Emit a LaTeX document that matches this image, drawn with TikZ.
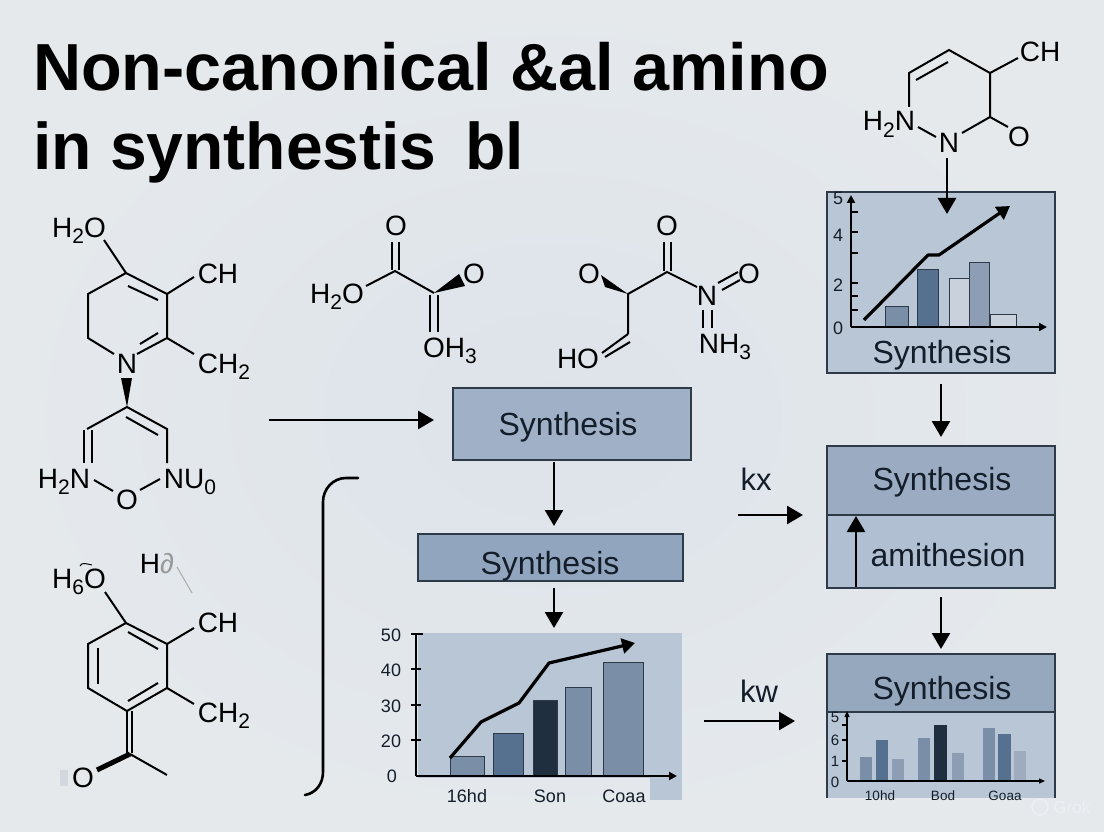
\documentclass[tikz,border=0pt]{standalone}
\usepackage{fontspec}
\setmainfont{Liberation Sans}
\usetikzlibrary{arrows.meta}
\definecolor{pagein}{HTML}{DDE3EA}
\definecolor{pageout}{HTML}{E5E9EC}
\definecolor{inkdark}{HTML}{141E2A}
\definecolor{boxedge}{HTML}{2E3A48}
\definecolor{boxone}{HTML}{A0B1C7}
\definecolor{boxtwo}{HTML}{92A5BE}
\definecolor{boxupper}{HTML}{9BACC2}
\definecolor{boxlower}{HTML}{B0BFD1}
\definecolor{boxtop}{HTML}{96A8BE}
\definecolor{panel}{HTML}{B8C6D5}
\definecolor{barnavy}{HTML}{1F2F3F}
\definecolor{bardeep}{HTML}{56708F}
\definecolor{barmid}{HTML}{7A8EA8}
\definecolor{barsoft}{HTML}{8D9DB3}
\definecolor{barpale}{HTML}{C8D1DC}
\newcommand{\chemsub}[1]{\raisebox{-.24em}{\fontsize{21}{21}\selectfont #1}}
\tikzset{
	atom/.style={anchor=base,inner sep=0pt,text=black,font=\fontsize{28}{30}\selectfont},
	bond/.style={line width=2pt},
	flow/.style={line width=2.7pt,-{Triangle[length=16pt,width=18pt]}},
	trend/.style={line width=3.2pt,line join=round,-{Triangle[length=13pt,width=15pt]}},
	axis/.style={line width=2pt,-{Triangle[length=8pt,width=8pt]}},
	tick/.style={line width=1.4pt},
	bar/.style={draw=boxedge,line width=0.8pt},
	stepbox/.style={draw=boxedge,line width=1.3pt,inner sep=0pt,outer sep=0pt},
	word/.style={anchor=base,inner sep=0pt,text=inkdark,font=\fontsize{32}{34}\selectfont},
	rate/.style={anchor=base,inner sep=0pt,text=inkdark,font=\fontsize{31}{33}\selectfont},
	numlabel/.style={inner sep=0pt,text=inkdark,font=\fontsize{#1}{#1}\selectfont},
	headline/.style={anchor=base west,inner sep=0pt,text=black,font=\fontsize{#1}{70}\selectfont\bfseries}
}
\begin{document}
\begin{tikzpicture}[x=1pt,y=-1pt]
	\useasboundingbox (0,0) rectangle (1104,832);
	\shade[inner color=pagein,outer color=pageout] (0,0) rectangle (1104,832);
	% heading
	\node[headline=66.6] (head1) at (33,91) {Non-canonical \&al amino};
	\node[headline=66] (head2) at (33,170) {in synthestis\hspace{29pt}bl};

	% ring, top right
	\coordinate (R1) at (949,50);
	\coordinate (R2) at (990,73);
	\coordinate (R3) at (990,117);
	\coordinate (R4) at (909,73);
	\coordinate (R5) at (909,107);
	\coordinate (R6) at (1018,58);
	\coordinate (R7) at (962,133);
	\coordinate (R8) at (1008,127);
	\coordinate (R9) at (918,127);
	\coordinate (R10) at (936,137);
	\coordinate (R11) at (916,80);
	\coordinate (R12) at (948,62);
	\draw[bond] (R5) to (R4) to (R1) to (R2) to (R3) to (R7);
	\draw[bond] (R11) to (R12);
	\draw[bond] (R2) to (R6);
	\draw[bond] (R3) to (R8);
	\draw[bond] (R9) to (R10);
	\node[atom] (chTop) at (1040,62) {CH};
	\node[atom] (hnTop) at (889,131) {H\chemsub{2}N};
	\node[atom] (nTop) at (949,153) {N};
	\node[atom] (oTop) at (1019,147) {O};

	% first ring pair, left
	\coordinate (A1) at (126,273);
	\coordinate (A2) at (167,294);
	\coordinate (A3) at (167,338);
	\coordinate (A4) at (114,354);
	\coordinate (A5) at (88,338);
	\coordinate (A6) at (88,294);
	\coordinate (A7) at (104,240);
	\coordinate (A8) at (194,277);
	\coordinate (A9) at (194,354);
	\coordinate (A10) at (137,354);
	\draw[bond] (A4) to (A5) to (A6) to (A1) to (A2) to (A3) to (A10);
	\draw[bond] (A7) to (A1);
	\draw[bond] (A2) to (A8);
	\draw[bond] (A3) to (A9);
	\draw[bond] (128,286) to (158,300);
	\draw[bond] (158,333) to (140,344);
	\coordinate (A11) at (121,378);
	\coordinate (A12) at (132,378);
	\coordinate (B1) at (127,407);
	\coordinate (B2) at (87,429);
	\coordinate (B3) at (167,429);
	\coordinate (B4) at (167,463);
	\fill (A11) -- (A12) -- (B1) -- cycle;
	\draw[bond] (B4) to (B3) to (B1) to (B2);
	\draw[bond] (126,417) to (158,435);
	\draw[bond] (84,430) to (84,463);
	\draw[bond] (92,430) to (92,463);
	\coordinate (B5) at (94,480);
	\coordinate (B6) at (113,491);
	\coordinate (B7) at (140,490);
	\coordinate (B8) at (160,479);
	\draw[bond] (B5) to (B6);
	\draw[bond] (B7) to (B8);
	\node[atom] (hoA) at (79,237) {H\chemsub{2}O};
	\node[atom] (chA) at (218,283) {CH};
	\node[atom] (chhA) at (224,373) {CH\chemsub{2}};
	\node[atom] (nA) at (127,373) {N};
	\node[atom] (hnB) at (64,488) {H\chemsub{2}N};
	\node[atom] (oB) at (127,509) {O};
	\node[atom] (nuB) at (190,488) {NU\chemsub{0}};

	% second ring, left
	\coordinate (C1) at (126,623);
	\coordinate (C2) at (167,644);
	\coordinate (C3) at (167,688);
	\coordinate (C4) at (127,711);
	\coordinate (C5) at (88,688);
	\coordinate (C6) at (88,644);
	\coordinate (C7) at (105,592);
	\coordinate (C8) at (194,628);
	\coordinate (C9) at (194,704);
	\coordinate (C10) at (130,754);
	\coordinate (C11) at (167,775);
	\coordinate (C12) at (97,770);
	\draw[bond] (C1) to (C2) to (C3) to (C4) to (C5) to (C6) to (C1);
	\draw[bond] (128,632) to (158,649);
	\draw[bond] (158,683) to (128,701);
	\draw[bond] (98,648) to (98,684);
	\draw[bond] (C7) to (C1);
	\draw[bond] (C2) to (C8);
	\draw[bond] (C3) to (C9);
	\draw[bond] (127.3,711) to (127.3,753);
	\draw[bond] (131.7,711) to (131.7,753);
	\draw[bond] (C10) to (C11);
	\draw[line width=5pt] (C10) to (C12);
	\draw[black!30,line width=1.2pt] (177,567) to (192,593);
	\draw[line width=1pt] (80,566) to[out=70,in=170] (92,565);
	\fill[pagein!95!black] (60,770) rectangle (68,786);
	\node[atom] (hoC) at (79,588) {H\chemsub{6}O};
	\node[atom] (hdC) at (157,573) {H\textcolor{black!40}{∂}};
	\node[atom] (chC) at (218,632) {CH};
	\node[atom] (chhC) at (224,722) {CH\chemsub{2}};
	\node[atom] (oC) at (83,787) {O};

	% small acid, middle
	\coordinate (D1) at (395,271);
	\coordinate (D2) at (434,293);
	\coordinate (D3) at (366,286);
	\coordinate (D4) at (459,274);
	\coordinate (D5) at (465,286);
	\draw[bond] (D3) to (D1) to (D2);
	\draw[bond] (392,242) to (392,270);
	\draw[bond] (399,242) to (399,270);
	\fill (D2) -- (D4) -- (D5) -- cycle;
	\draw[bond] (430,295) to (430,332);
	\draw[bond] (438,295) to (438,332);
	\node[atom] (oD) at (396,236) {O};
	\node[atom] (hoD) at (337,303) {H\chemsub{2}O};
	\node[atom] (oeD) at (474,283) {O};
	\node[atom] (ohD) at (450,357) {OH\chemsub{3}};

	% nitro chain, middle
	\coordinate (E1) at (667,272);
	\coordinate (E2) at (628,294);
	\coordinate (E3) at (628,334);
	\coordinate (E4) at (697,287);
	\coordinate (E5) at (601,275);
	\coordinate (E6) at (605,287);
	\draw[bond] (E3) to (E2) to (E1) to (E4);
	\fill (E2) -- (E5) -- (E6) -- cycle;
	\draw[bond] (664,242) to (664,271);
	\draw[bond] (671,242) to (671,271);
	\draw[bond] (E3) to (602,353);
	\draw[bond] (630,342) to (605,357);
	\draw[bond] (718,283) to (738,272);
	\draw[bond] (722,290) to (740,280);
	\draw[bond] (703,310) to (703,328);
	\draw[bond] (712,310) to (712,328);
	\node[atom] (oE) at (667,236) {O};
	\node[atom] (olE) at (589,283) {O};
	\node[atom] (orE) at (749,283) {O};
	\node[atom] (nE) at (707,305) {N};
	\node[atom] (nhE) at (725,353) {NH\chemsub{3}};
	\node[atom] (hoE) at (578,368) {HO};

	% middle column
	\node[stepbox,fill=boxone,minimum width=238pt,minimum height=72pt] (box1) at (572,424) {};
	\node[word] (syn1) at (568,435) {Synthesis};
	\node[stepbox,fill=boxtwo,minimum width=265pt,minimum height=47pt] (box2) at (550.5,557.5) {};
	\node[word] (syn2) at (550,574) {Synthesis};
	\coordinate (M1) at (269,420);
	\coordinate (M2) at (434,420);
	\draw[flow] (M1) to (M2);
	\coordinate (M3) at (554,462);
	\coordinate (M4) at (554,526);
	\coordinate (M5) at (554,588);
	\coordinate (M6) at (554,628);
	\draw[flow] (M3) to (M4);
	\draw[flow] (M5) to (M6);
	\draw[line width=2.6pt,line cap=round] (358,478) to (346,478) to[out=180,in=90] (323,502) to (323,772) to[out=-90,in=10] (305,795);

	% chart, middle
	\fill[panel] (418,633) rectangle (682,778);
	\fill[panel] (650,778) rectangle (682,800);
	\draw[bar,fill=barmid] (450,756) rectangle (484,776);
	\draw[bar,fill=bardeep] (493,733) rectangle (523,776);
	\draw[bar,fill=barnavy] (533,700) rectangle (557,776);
	\draw[bar,fill=barmid] (565,687) rectangle (591,776);
	\draw[bar,fill=barmid] (603,662) rectangle (643,776);
	\draw[line width=2pt] (416,776) to (416,634);
	\draw[axis] (416,776) to (677,776);
	\draw[tick] (411,634) to (423,634);
	\draw[tick] (411,669) to (421,669);
	\draw[tick] (411,705) to (421,705);
	\draw[tick] (411,740) to (421,740);
	\draw[trend] (450,758) to (481,722) to (519,703) to (549,663) to (635,643);
	\node[numlabel=18] (m50) at (391,635) {50};
	\node[numlabel=18] (m40) at (391,670) {40};
	\node[numlabel=18] (m30) at (391,706) {30};
	\node[numlabel=18] (m20) at (391,741) {20};
	\node[numlabel=18] (m0) at (392,776) {0};
	\node[numlabel=18,anchor=base] (mx1) at (467,802) {16hd};
	\node[numlabel=18,anchor=base] (mx2) at (550,802) {Son};
	\node[numlabel=18,anchor=base] (mx3) at (624,802) {Coaa};

	% right column, chart on top
	\node[stepbox,fill=panel,minimum width=228pt,minimum height=181pt] (panelTop) at (941,282.5) {};
	\draw[bar,fill=barmid] (885,306) rectangle (908,327);
	\draw[bar,fill=bardeep] (917,269) rectangle (938,327);
	\draw[bar,fill=barpale] (949,278) rectangle (969,327);
	\draw[bar,fill=barsoft] (969,262) rectangle (989,327);
	\draw[bar,fill=barpale] (990,314) rectangle (1016,327);
	\draw[axis] (851,327) to (851,195);
	\draw[axis] (851,327) to (1047,327);
	\draw[tick] (851,212) to (858,212);
	\draw[tick] (851,232) to (858,232);
	\draw[tick] (851,253) to (858,253);
	\draw[tick] (851,283) to (858,283);
	\draw[tick] (851,296) to (858,296);
	\draw[tick] (851,310) to (858,310);
	\draw[trend] (864,320) to (928,255) to (939,255) to (1010,206);
	\node[numlabel=18] (t5) at (838,198) {5};
	\node[numlabel=18] (t4) at (838,235) {4};
	\node[numlabel=18] (t2) at (838,285) {2};
	\node[numlabel=18] (t0) at (838,328) {0};
	\node[word] (synTop) at (942,363) {Synthesis};
	\coordinate (P1) at (947,158);
	\coordinate (P2) at (947,214);
	\draw[flow] (P1) to (P2);

	% right column, split box
	\node[stepbox,fill=boxupper,minimum width=228pt,minimum height=69pt] (box3) at (941,480.5) {};
	\node[word] (syn3) at (942,490) {Synthesis};
	\node[stepbox,fill=boxlower,minimum width=228pt,minimum height=73pt] (ami) at (941,551.5) {};
	\node[word] (amiText) at (948,566) {amithesion};
	\coordinate (P3) at (856,587);
	\coordinate (P4) at (856,516);
	\draw[flow] (P3) to (P4);
	\coordinate (P5) at (941,384);
	\coordinate (P6) at (941,437);
	\coordinate (P7) at (941,597);
	\coordinate (P8) at (941,649);
	\draw[flow] (P5) to (P6);
	\draw[flow] (P7) to (P8);
	\node[rate] (kx) at (756,490) {kx};
	\node[rate] (kw) at (759,702) {kw};
	\coordinate (K1) at (738,515);
	\coordinate (K2) at (803,515);
	\coordinate (K3) at (704,721);
	\coordinate (K4) at (795,721);
	\draw[flow] (K1) to (K2);
	\draw[flow] (K3) to (K4);

	% right column, chart at the bottom
	\fill[panel] (827,712) rectangle (1055,798);
	\node[stepbox,fill=boxtop,minimum width=228pt,minimum height=58pt] (box4) at (941,683) {};
	\node[word] (syn4) at (942,699) {Synthesis};
	\draw[line width=1.3pt,draw=boxedge] (827,712) to (827,798);
	\draw[line width=1.3pt,draw=boxedge] (1055,712) to (1055,798);
	\fill[barmid] (860,757) rectangle (872,781);
	\fill[bardeep] (876,740) rectangle (888,781);
	\fill[barsoft] (892,759) rectangle (904,781);
	\fill[barmid] (918,738) rectangle (930,781);
	\fill[barnavy] (934,725) rectangle (947,781);
	\fill[barsoft] (952,753) rectangle (964,781);
	\fill[barmid] (983,728) rectangle (995,781);
	\fill[bardeep] (998,734) rectangle (1011,781);
	\fill[barsoft!85!white] (1014,751) rectangle (1026,781);
	\draw[line width=1.3pt,-{Triangle[length=6pt,width=5pt]}] (847,781) to (847,711);
	\draw[line width=1.3pt,-{Triangle[length=6pt,width=5pt]}] (847,781) to (1045,781);
	\draw[tick] (847,725) to (842,725);
	\draw[tick] (847,740) to (842,740);
	\draw[tick] (847,761) to (842,761);
	\node[numlabel=15] (b5) at (835,717) {5};
	\node[numlabel=15] (b6) at (835,740) {6};
	\node[numlabel=15] (b1) at (835,761) {1};
	\node[numlabel=15] (b0) at (835,782) {0};
	\node[numlabel=13.5,anchor=base] (bx1) at (880,800) {10hd};
	\node[numlabel=13.5,anchor=base] (bx2) at (943,800) {Bod};
	\node[numlabel=13.5,anchor=base] (bx3) at (1005,800) {Goaa};
	% faint mark in the corner
	\draw[white!45!pagein,line width=1.6pt] (1040,807) circle (8);
	\node[inner sep=0pt,text=white!45!pagein,font=\fontsize{17}{17}\selectfont] (mark) at (1072,807) {Grok};
\end{tikzpicture}
\end{document}
